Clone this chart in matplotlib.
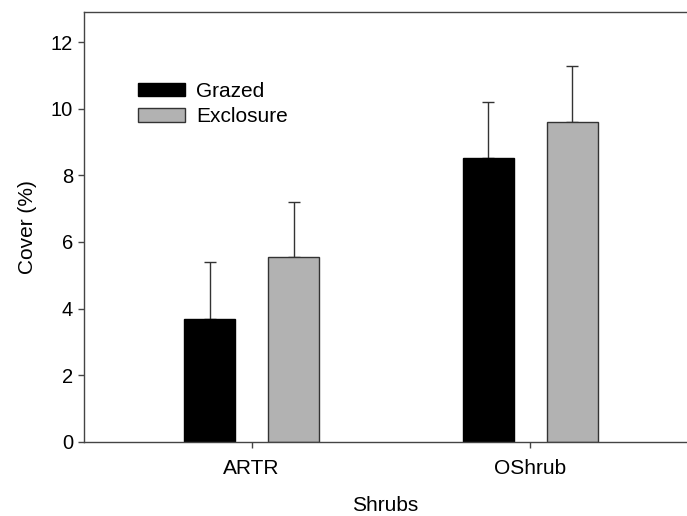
import matplotlib
matplotlib.use("Agg")
import matplotlib.pyplot as plt
import numpy as np

categories = ["ARTR", "OShrub"]
grazed = [3.70, 8.51]
grazed_err = [1.69, 1.70]
exclosure = [5.54, 9.61]
exclosure_err = [1.67, 1.69]

plt.rcParams["font.family"] = ["Liberation Sans", "DejaVu Sans"]
plt.rcParams["font.size"] = 15

fig = plt.figure(figsize=(6.87, 5.16), dpi=100)
ax = fig.add_axes([84 / 687, 1 - 441.7 / 516, 1 - 84 / 687, (441.7 - 12.3) / 516])

x = np.arange(len(categories))
w = 51 / 278.3
off = 42 / 278.3
edge = "#333333"
ax.bar(x - off, grazed, w, color="black", edgecolor="black", linewidth=1, label="Grazed", zorder=2)
ax.bar(x + off, exclosure, w, color="#b2b2b2", edgecolor=edge, linewidth=1, label="Exclosure", zorder=2)
ax.errorbar(x - off, grazed, yerr=[np.zeros(2), grazed_err], fmt="none", ecolor=edge,
            elinewidth=1, capsize=4.5, capthick=1, zorder=1)
ax.errorbar(x + off, exclosure, yerr=[np.zeros(2), exclosure_err], fmt="none", ecolor=edge,
            elinewidth=1, capsize=4.5, capthick=1, zorder=1)

ax.set_xlim(-(251.7 - 84) / 278.3, 1 + (687 - 530) / 278.3)
ax.set_ylim(0, 12.9)
ax.set_yticks([0, 2, 4, 6, 8, 10, 12])
ax.set_xticks(x)
ax.set_xticklabels(categories)
for s in ax.spines.values():
    s.set_color("#444444")
    s.set_linewidth(1)
ax.spines["right"].set_visible(False)
ax.tick_params(axis="both", color="#444444", length=4.5, width=1)
ax.tick_params(axis="y", labelsize=14.5)
ax.tick_params(axis="x", labelsize=15, pad=8)
ax.set_xlabel("Shrubs", fontsize=15, labelpad=13)
ax.set_ylabel("Cover (%)", fontsize=15, labelpad=10)

ax.legend(loc="upper left", bbox_to_anchor=(138 / 687, 1 - 82 / 516), bbox_transform=fig.transFigure,
          frameon=False, fontsize=15, handlelength=2.26, handleheight=0.6, handletextpad=0.53,
          labelspacing=0.3, borderpad=0, borderaxespad=0)

fig.savefig("out.png", dpi=100)
